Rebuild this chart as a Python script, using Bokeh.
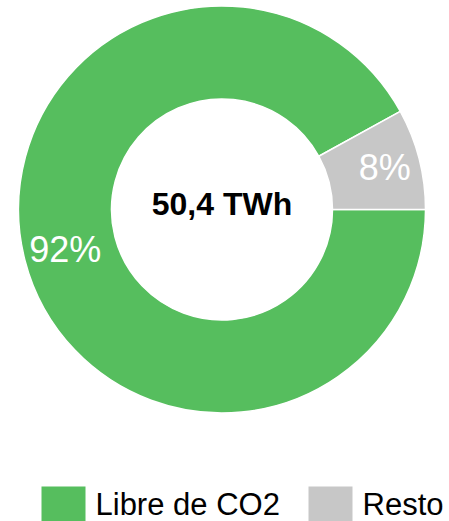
import math
from bokeh.plotting import figure
from bokeh.models import Range1d, ColumnDataSource
from bokeh.core.properties import value
from bokeh.embed import file_html
from bokeh.resources import INLINE

# ---- data ----
categories = ["Libre de CO2", "Resto"]
shares = [92, 8]
colors = ["#56BE5E", "#C7C7C7"]
center_label = "50,4 TWh"

# ---- layout ----
W, H = 449, 521
CX, CY = 221.5, -209.0
R_IN, R_OUT = 110.5, 203.5
R_LABEL = 165

p = figure(width=W, height=H, output_backend="svg", toolbar_location=None,
           x_range=Range1d(0, W), y_range=Range1d(-H, 0), min_border=0)
p.axis.visible = False
p.grid.visible = False
p.outline_line_color = None
p.background_fill_color = "white"
p.border_fill_color = "white"

total = sum(shares)
starts, ends, lx, ly, labels = [], [], [], [], []
acc = 0.0
for s in shares:
    a0 = -2 * math.pi * acc / total
    a1 = -2 * math.pi * (acc + s) / total
    starts.append(a0)
    ends.append(a1)
    mid = (a0 + a1) / 2
    lx.append(CX + 3 + R_LABEL * math.cos(mid))
    ly.append(CY + 1 + R_LABEL * math.sin(mid))
    labels.append(f"{round(100 * s / total)}%")
    acc += s

src = ColumnDataSource(dict(start=starts, end=ends, color=colors, lx=lx, ly=ly, label=labels))
p.annular_wedge(x=CX, y=CY, inner_radius=R_IN, outer_radius=R_OUT,
                start_angle="start", end_angle="end", direction="clock",
                fill_color="color", line_color="white", line_width=1.5, source=src)

p.text(x="lx", y="ly", text="label", source=src, text_color="white",
       text_font=value("Liberation Sans"), text_font_size="36px",
       text_align="center", text_baseline="middle")

p.text(x=[CX], y=[CY + 6], text=[center_label], text_color="black",
       text_font=value("Liberation Sans"), text_font_style="bold",
       text_font_size="32px", text_align="center", text_baseline="middle")

# ---- legend ----
sq_x = [63, 330]
txt_x = [95, 362]
leg_y = -508
p.rect(x=sq_x, y=[leg_y] * 2, width=44, height=44, fill_color=colors, line_color=None)
p.text(x=txt_x, y=[-504] * 2, text=categories, text_color="black",
       text_font=value("Liberation Sans"), text_font_size="31px",
       text_align="left", text_baseline="middle")

open("out.html", "w").write(file_html(p, INLINE))
